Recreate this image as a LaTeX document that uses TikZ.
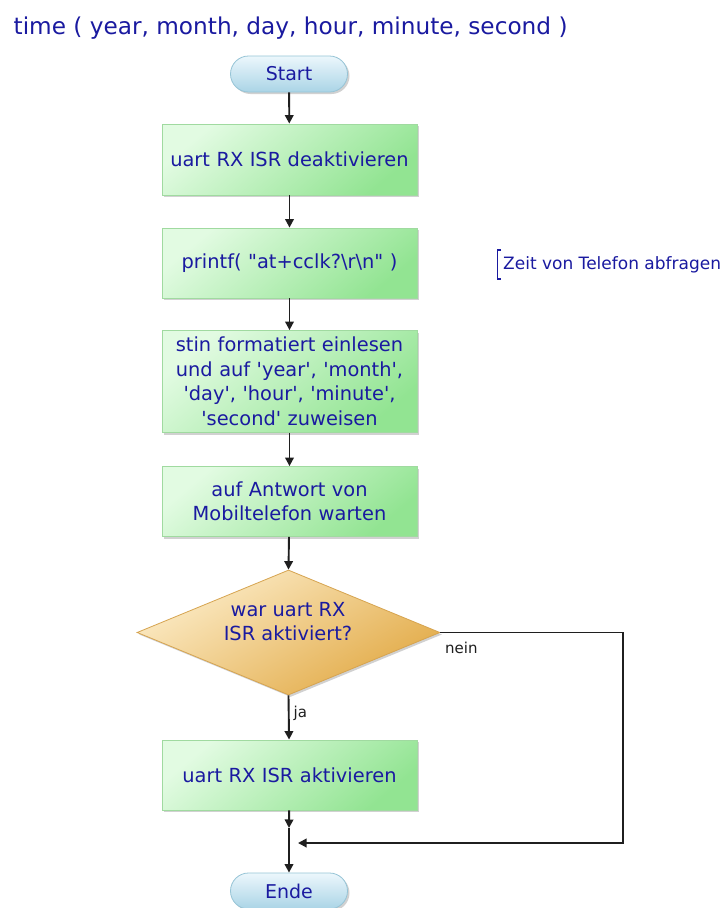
\documentclass[tikz,border=0pt]{standalone}
\usepackage{fontspec}
\setmainfont{DejaVu Sans}[Ligatures=TeXOff]
\usetikzlibrary{arrows.meta,shapes.geometric,shapes.misc,shadows}
\definecolor{txtblue}{RGB}{26,26,160}
\definecolor{boxlight}{RGB}{226,251,226}
\definecolor{boxmid}{RGB}{190,242,190}
\definecolor{boxdark}{RGB}{146,228,146}
\definecolor{boxborder}{RGB}{160,218,160}
\definecolor{pilllight}{RGB}{236,247,252}
\definecolor{pilldark}{RGB}{170,212,230}
\definecolor{pillborder}{RGB}{150,196,214}
\definecolor{dialight}{RGB}{252,236,200}
\definecolor{diadark}{RGB}{226,170,70}
\definecolor{diaborder}{RGB}{214,164,80}
\begin{document}
\begin{tikzpicture}[x=1pt,y=-1pt,
  shad/.style={drop shadow={shadow xshift=2pt,shadow yshift=-2pt,fill=black,opacity=0.18}},
  proc/.style={rectangle, shad, draw=boxborder, line width=0.8pt,
    top color=boxlight, middle color=boxmid, bottom color=boxdark, shading angle=40,
    minimum width=255pt, text width=250pt, align=center, inner sep=0pt,
    text=txtblue, font=\fontsize{19.4}{24.5}\selectfont},
  term/.style={rounded rectangle, shad, draw=pillborder, line width=0.8pt,
    top color=pilllight, bottom color=pilldark,
    minimum width=117pt, minimum height=36pt, inner sep=0pt,
    text=txtblue, font=\fontsize{19}{22}\selectfont},
  dec/.style={diamond, shad, draw=diaborder, line width=0.8pt,
    top color=dialight, bottom color=diadark, shading angle=30,
    minimum width=303pt, minimum height=125pt, aspect=2.424, inner sep=0pt},
  arr/.style={draw=black!88, line width=1.9pt, -{Triangle[length=8.5pt,width=8.5pt]}},
  ln/.style={draw=black!88, line width=1.9pt},
  lbl/.style={text=black!88, font=\fontsize{15}{18}\selectfont, inner sep=0pt}]
\useasboundingbox (0,0) rectangle (723,908);
\fill[white] (0,0) rectangle (723,908);
\node[anchor=west, inner sep=0pt, text=txtblue, font=\fontsize{23.2}{26}\selectfont] (title) at (13.5,28) {time ( year, month, day, hour, minute, second )};
\node[term] (start) at (289,74) {Start};
\node[proc, minimum height=71pt] (b1) at (289.5,159.5) {uart RX ISR deaktivieren};
\node[proc, minimum height=70pt] (b2) at (289.5,263) {printf( "at+cclk?\textbackslash r\textbackslash n" )};
\node[proc, minimum height=102pt] (b3) at (289.5,381.5) {stin formatiert einlesen\\und auf 'year', 'month',\\'day', 'hour', 'minute',\\'second' zuweisen};
\node[proc, minimum height=70pt] (b4) at (289.5,501.5) {auf Antwort von\\Mobiltelefon warten};
\node[dec] (d) at (288.5,632.5) {};
\node[text=txtblue, align=center, inner sep=0pt, font=\fontsize{19.4}{24}\selectfont] (dt) at (288,622) {war uart RX\\ISR aktiviert?};
\node[proc, minimum height=70pt] (b5) at (289.5,775) {uart RX ISR aktivieren};
\node[term] (ende) at (289,891) {Ende};
\coordinate (k) at (289,828);
\coordinate (j) at (289,843);
\coordinate (jr) at (298,843);
\coordinate (r) at (623,632.5);
\draw[arr] (start) -- (b1);
\draw[arr] (b1) -- (b2);
\draw[arr] (b2) -- (b3);
\draw[arr] (b3) -- (b4);
\draw[arr] (b4) -- (d.north);
\draw[arr] (d.south) -- node[lbl, anchor=west, pos=0.4, xshift=4pt] (ja) {ja} (b5);
\draw[arr] (b5) -- (k);
\draw[ln] (k) -- (j);
\draw[arr] (j) -- (ende);
\draw[arr] (d.east) -- (r) |- (jr);
\node[lbl, anchor=north west] (nein) at (445,642) {nein};
\node[anchor=west, inner sep=0pt, text=txtblue, font=\fontsize{17}{20}\selectfont] (cm) at (503,265) {Zeit von Telefon abfragen};
\draw[txtblue, line width=1.6pt] (501,250) -- (497.5,250) -- (497.5,279) -- (501,279);
\end{tikzpicture}
\end{document}
